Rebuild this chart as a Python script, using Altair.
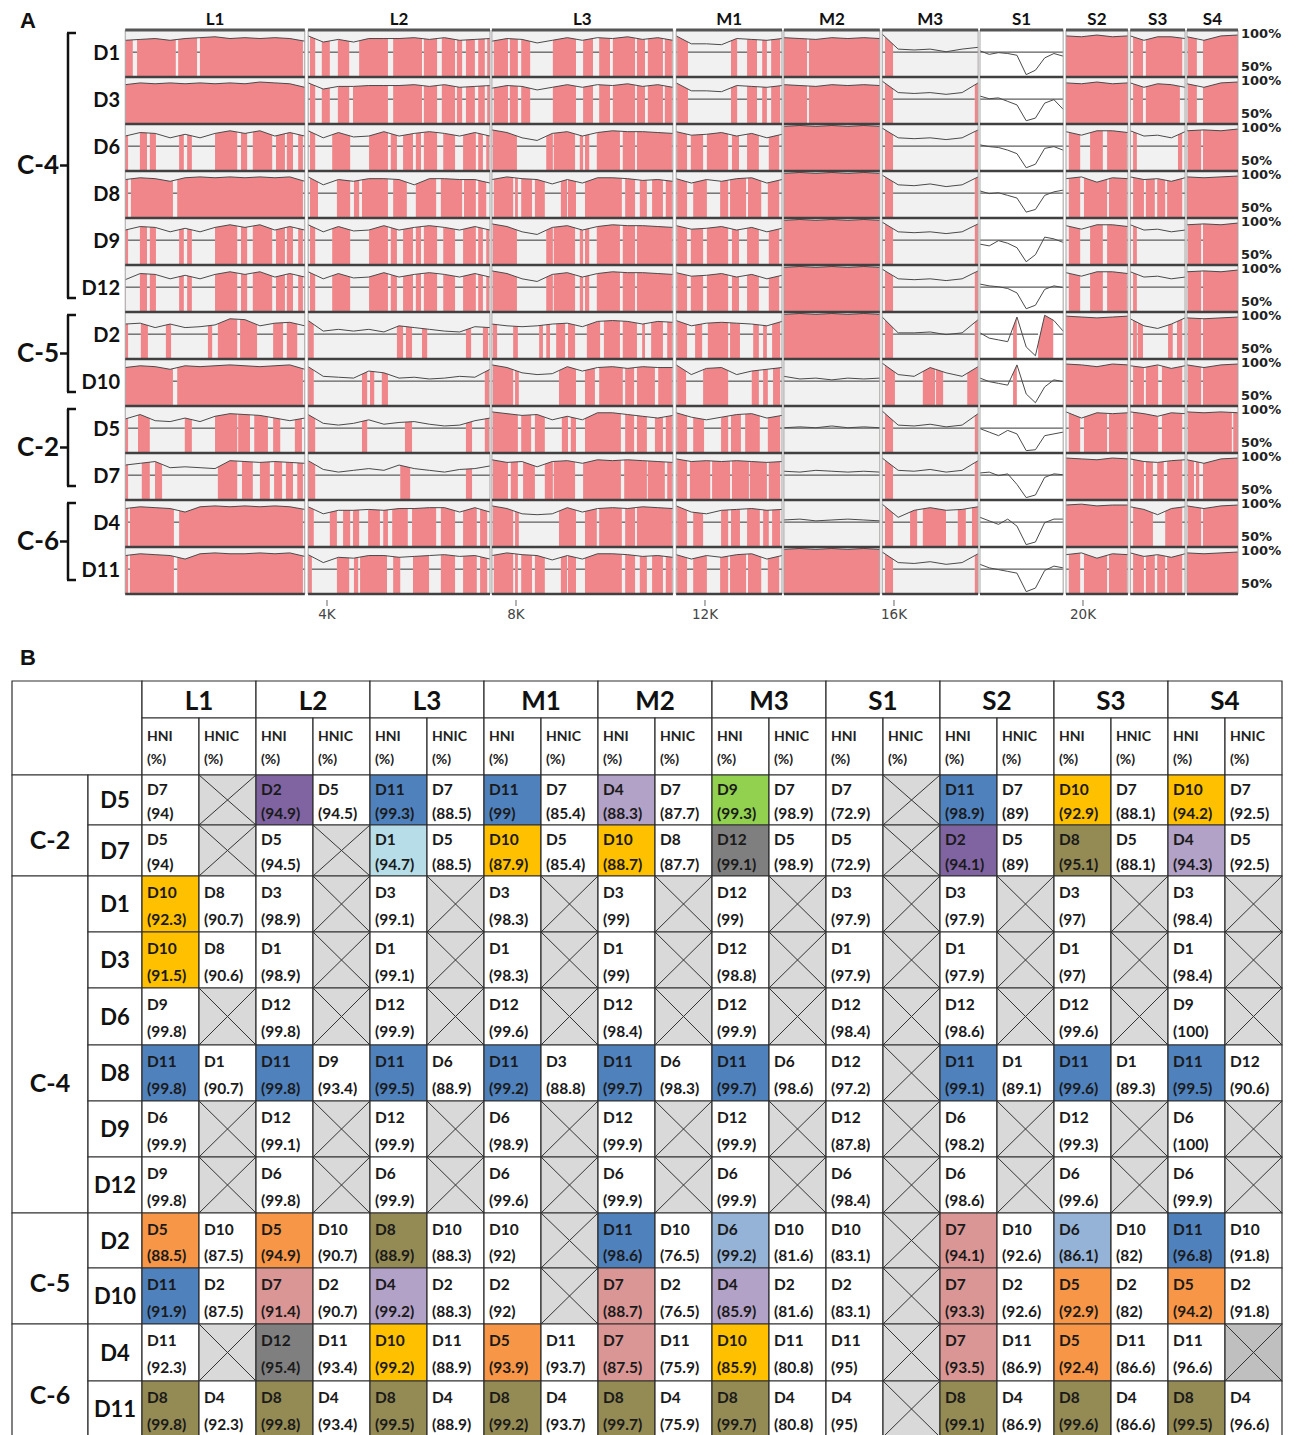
import altair as alt
import pandas as pd

# =====================  PANEL A : similarity plots  =====================
ROWS_A = ["D1", "D3", "D6", "D8", "D9", "D12", "D2", "D10", "D5", "D7", "D4", "D11"]
GROUPS_A = [("C-4", 0, 5), ("C-5", 6, 7), ("C-2", 8, 9), ("C-6", 10, 11)]
SEGMENTS = ["L1", "L2", "L3", "M1", "M2", "M3", "S1", "S2", "S3", "S4"]
SEG_START = [-0.27, 3.60, 7.49, 11.39, 13.67, 15.75, 17.82, 19.64, 21.00, 22.20]   # kb
SEG_END = [3.53, 7.45, 11.32, 13.63, 15.70, 17.78, 19.58, 20.95, 22.16, 23.28]      # kb
THRESHOLD = 76.5
X_TICKS_K = [4, 8, 12, 16, 20]

# similarity (%) sampled evenly along each segment
D1_SIM = [[90, 91, 92, 90, 92, 93, 94, 92, 93, 92, 93, 92, 89], [95, 88, 91, 88, 92, 92, 92, 93, 91, 93, 90, 91, 92],
          [89, 92, 91, 87, 90, 93, 90, 93, 92, 94, 91, 93, 90], [95, 86, 86, 85, 92, 91, 90, 92], [93, 92, 91, 93, 92, 93, 92],
          [97, 80, 79, 80, 77, 80, 82], [78, 74, 76, 75, 73, 51, 56, 70, 75, 72], [95, 94, 96, 94, 95], [95, 90, 94, 94, 92], [94, 90, 95, 96]]
D3_SIM = [[93, 95, 94, 95, 94, 95, 94, 95, 94, 96, 95, 94, 90], [95, 88, 91, 91, 92, 92, 92, 93, 91, 93, 90, 91, 92],
          [89, 92, 91, 87, 90, 93, 90, 93, 92, 94, 91, 93, 90], [95, 86, 86, 85, 92, 91, 90, 92], [93, 92, 91, 93, 92, 93, 92],
          [97, 84, 83, 84, 82, 84, 95], [80, 77, 78, 74, 70, 52, 55, 72, 76, 65], [95, 94, 96, 94, 95], [95, 90, 94, 93, 90], [94, 90, 95, 96]]
D6_SIM = [[88, 92, 91, 86, 90, 86, 91, 94, 91, 94, 88, 92, 88], [94, 86, 92, 87, 88, 93, 88, 91, 93, 91, 88, 92, 88],
          [95, 92, 86, 83, 91, 93, 88, 92, 94, 93, 93, 92, 91], [93, 89, 90, 92, 88, 91, 86, 90], [99, 100, 99, 100, 99, 100, 99],
          [97, 86, 85, 86, 84, 86, 95], [78, 76, 75, 72, 68, 52, 56, 74, 76, 72], [93, 89, 94, 94, 92], [94, 88, 89, 86, 93], [94, 95, 94, 96]]
D8_SIM = [[92, 94, 93, 90, 94, 95, 94, 95, 94, 95, 94, 95, 90], [95, 86, 92, 90, 93, 93, 92, 86, 93, 93, 92, 92, 88],
          [92, 95, 93, 92, 87, 92, 88, 94, 94, 93, 91, 92, 90], [93, 88, 92, 90, 93, 94, 88, 92], [99, 100, 99, 100, 99, 100, 99],
          [97, 86, 85, 87, 84, 86, 95], [79, 76, 77, 74, 71, 55, 58, 74, 78, 80], [93, 95, 89, 94, 93], [95, 92, 93, 90, 94], [95, 94, 95, 96]]
D9_SIM = [[88, 92, 91, 86, 90, 86, 91, 94, 91, 94, 88, 92, 88], [94, 86, 92, 87, 88, 93, 88, 91, 93, 91, 88, 92, 88],
          [95, 92, 86, 83, 91, 93, 88, 92, 94, 93, 93, 92, 91], [93, 89, 90, 92, 88, 91, 86, 90], [99, 100, 99, 100, 99, 100, 99],
          [97, 86, 85, 86, 84, 86, 95], [72, 70, 76, 73, 68, 52, 60, 80, 78, 74], [93, 89, 94, 94, 92], [94, 88, 89, 86, 88], [94, 95, 94, 96]]
D12_SIM = [[85, 92, 91, 86, 90, 86, 91, 94, 91, 94, 88, 92, 88], [94, 86, 92, 87, 88, 93, 88, 91, 93, 91, 88, 92, 88],
           [95, 92, 86, 83, 91, 93, 88, 92, 94, 93, 93, 92, 91], [93, 89, 90, 92, 88, 91, 86, 90], [99, 100, 99, 100, 99, 100, 99],
           [97, 86, 85, 86, 84, 86, 95], [80, 78, 77, 75, 70, 52, 56, 74, 78, 76], [93, 89, 94, 94, 92], [94, 88, 89, 86, 88], [94, 95, 94, 96]]
D2_SIM = [[88, 89, 84, 88, 84, 85, 87, 94, 93, 86, 89, 90, 86], [92, 80, 82, 80, 82, 79, 86, 84, 82, 80, 79, 85, 84],
          [88, 86, 85, 86, 88, 89, 85, 91, 92, 91, 88, 91, 90], [92, 86, 89, 90, 89, 88, 86, 91], [99, 100, 99, 100, 99, 100, 99],
          [96, 78, 78, 79, 76, 78, 93], [78, 72, 70, 68, 96, 62, 52, 98, 92, 80], [97, 96, 95, 96, 97], [94, 86, 83, 88, 95], [95, 94, 95, 96]]
D10_SIM = [[92, 94, 93, 90, 94, 93, 94, 95, 94, 93, 94, 95, 90], [93, 82, 81, 80, 88, 86, 80, 81, 79, 80, 82, 81, 90],
           [95, 92, 86, 84, 85, 93, 88, 92, 93, 91, 93, 92, 92], [95, 84, 91, 92, 84, 88, 90, 92], [82, 79, 80, 78, 80, 79, 80],
           [97, 84, 82, 92, 86, 82, 93], [80, 76, 74, 72, 95, 62, 52, 70, 78, 76], [96, 95, 93, 96, 95], [94, 92, 95, 91, 94], [95, 92, 95, 96]]
D5_SIM = [[87, 92, 85, 84, 88, 84, 90, 93, 92, 91, 88, 85, 88], [92, 82, 80, 82, 86, 81, 83, 84, 81, 79, 80, 85, 88],
          [95, 93, 91, 92, 86, 90, 86, 94, 94, 92, 90, 88, 91], [94, 89, 86, 89, 92, 93, 88, 91], [77, 78, 77, 79, 77, 78, 77],
          [96, 80, 79, 81, 78, 80, 93], [76, 72, 68, 74, 70, 51, 52, 68, 70, 72], [95, 88, 94, 93, 94], [95, 93, 90, 94, 93], [95, 94, 95, 94]]
D7_SIM = [[88, 90, 92, 85, 86, 85, 84, 93, 92, 91, 92, 91, 90], [93, 83, 80, 82, 84, 82, 88, 84, 82, 80, 83, 84, 87],
          [94, 91, 92, 86, 92, 93, 90, 94, 93, 94, 93, 92, 91], [95, 92, 93, 92, 93, 92, 91, 92], [81, 80, 82, 81, 80, 81, 80],
          [96, 82, 81, 83, 80, 82, 93], [79, 80, 76, 78, 66, 51, 54, 74, 78, 77], [96, 95, 94, 96, 95], [95, 92, 91, 93, 94], [94, 90, 95, 96]]
D4_SIM = [[92, 94, 93, 92, 88, 94, 95, 94, 95, 94, 95, 94, 91], [94, 86, 90, 90, 91, 90, 92, 92, 93, 93, 88, 93, 88],
          [95, 92, 86, 85, 86, 93, 88, 92, 93, 92, 94, 93, 92], [95, 88, 86, 90, 91, 92, 90, 91], [79, 80, 78, 79, 80, 79, 78],
          [97, 82, 90, 93, 90, 91, 94], [82, 78, 74, 80, 72, 51, 54, 76, 80, 80], [96, 97, 95, 96, 96], [94, 91, 85, 92, 94], [95, 92, 95, 96]]
D11_SIM = [[92, 94, 93, 92, 88, 94, 95, 94, 94, 95, 94, 95, 91], [93, 84, 90, 89, 92, 92, 90, 91, 92, 93, 91, 92, 88],
           [92, 95, 93, 92, 87, 92, 88, 94, 94, 93, 91, 92, 90], [93, 88, 92, 90, 93, 94, 88, 92], [99, 100, 99, 100, 99, 100, 99],
           [96, 84, 83, 85, 82, 84, 94], [82, 78, 76, 74, 72, 51, 55, 75, 80, 78], [93, 95, 89, 94, 93], [95, 91, 93, 90, 94], [95, 94, 95, 96]]

# genome intervals (kb) where the row's sequence is the closest relative (pink)
D1_PINK = [[(-0.27, -0.11), (-0.02, 0.80), (0.85, 1.25), (1.31, 3.49)],
           [(3.64, 3.75), (3.89, 4.06), (4.23, 4.47), (4.68, 5.29), (5.40, 6.01), (6.05, 6.33), (6.43, 6.71), (6.75, 6.86), (6.94, 7.13), (7.20, 7.34), (7.39, 7.45)],
           [(7.53, 7.83), (7.87, 8.04), (8.11, 8.30), (8.78, 9.27), (9.42, 9.63), (9.76, 9.99), (10.05, 10.52), (10.56, 10.73), (10.79, 11.11), (11.15, 11.30)],
           [(11.41, 11.64), (12.55, 12.68), (12.89, 13.10), (13.21, 13.31), (13.40, 13.59)],
           [(13.67, 14.16), (14.20, 15.70)], [(15.81, 15.98)], [], [(19.64, 20.95)],
           [(21.06, 21.27), (21.33, 22.10)], [(22.22, 22.41), (22.54, 23.28)]]
D3_PINK = [[(-0.27, 3.53)],
           [(3.64, 3.75), (3.89, 4.06), (4.23, 4.47), (4.55, 5.29), (5.40, 6.01), (6.05, 6.33), (6.43, 6.71), (6.75, 6.86), (6.94, 7.13), (7.20, 7.34), (7.39, 7.45)],
           [(7.53, 7.83), (7.87, 8.04), (8.11, 8.30), (8.78, 9.27), (9.42, 9.63), (9.76, 9.99), (10.05, 10.52), (10.56, 10.73), (10.79, 11.11), (11.15, 11.30)],
           [(11.41, 11.64), (12.55, 12.68), (12.89, 13.10), (13.21, 13.31), (13.40, 13.59)],
           [(13.67, 14.16), (14.20, 15.70)], [(15.81, 15.98), (17.71, 17.78)], [], [(19.64, 20.95)],
           [(21.06, 21.27), (21.33, 22.05)], [(22.22, 22.41), (22.54, 23.28)]]
D6_PINK = [[(-0.27, -0.21), (0.04, 0.19), (0.25, 0.38), (0.87, 0.97), (1.04, 1.14), (1.63, 2.10), (2.18, 2.31), (2.43, 2.84), (2.92, 3.11), (3.15, 3.28), (3.39, 3.49)],
           [(3.64, 3.75), (4.11, 4.49), (4.89, 5.29), (5.35, 5.48), (5.61, 5.82), (5.88, 5.99), (6.05, 6.33), (6.46, 6.71), (6.88, 7.15), (7.20, 7.30), (7.37, 7.43)],
           [(7.51, 8.02), (8.64, 8.78), (8.80, 9.25), (9.35, 9.42), (9.46, 9.55), (9.71, 10.20), (10.26, 10.52), (10.56, 11.30)],
           [(11.41, 11.62), (11.70, 11.96), (12.04, 12.49), (12.57, 12.72), (12.89, 13.14), (13.35, 13.57)],
           [(13.67, 15.70)], [(15.81, 15.98), (17.71, 17.78)], [],
           [(19.70, 19.94), (20.15, 20.42), (20.51, 20.93)], [(21.06, 21.14), (22.01, 22.10)], [(22.22, 22.50), (22.54, 23.28)]]
D8_PINK = [[(-0.27, -0.21), (-0.15, 0.74), (0.83, 3.49)],
           [(3.64, 3.81), (4.21, 4.49), (4.57, 4.68), (4.74, 5.29), (5.40, 5.69), (5.88, 6.31), (6.41, 6.86), (6.90, 7.15), (7.20, 7.37)],
           [(7.53, 7.94), (7.98, 8.04), (8.11, 8.34), (8.40, 8.61), (8.95, 9.08), (9.10, 9.27), (9.46, 10.24), (10.31, 10.52), (10.62, 10.77), (10.88, 11.11), (11.17, 11.30)],
           [(11.41, 11.62), (11.75, 12.04), (12.32, 12.49), (12.53, 12.87), (12.91, 13.19), (13.33, 13.57)],
           [(13.67, 15.70)], [(15.81, 15.98), (17.71, 17.78)], [],
           [(19.70, 19.94), (20.02, 20.51), (20.55, 20.93)], [(21.06, 21.29), (21.33, 21.52), (21.57, 21.74), (21.78, 22.10)], [(22.20, 23.28)]]
D9_PINK = [[(-0.27, -0.21), (0.04, 0.19), (0.25, 0.38), (0.87, 0.97), (1.04, 1.14), (1.63, 2.10), (2.18, 2.31), (2.43, 2.84), (2.92, 3.11), (3.15, 3.28), (3.39, 3.49)],
           [(3.64, 3.75), (4.11, 4.49), (4.89, 5.29), (5.35, 5.48), (5.61, 5.82), (5.88, 5.99), (6.05, 6.33), (6.46, 6.71), (6.88, 7.15), (7.20, 7.30), (7.37, 7.43)],
           [(7.51, 8.02), (8.64, 8.78), (8.80, 9.25), (9.35, 9.42), (9.46, 9.55), (9.71, 10.20), (10.26, 10.52), (10.56, 11.30)],
           [(11.41, 11.62), (11.70, 11.96), (12.04, 12.49), (12.57, 12.72), (12.89, 13.14), (13.35, 13.57)],
           [(13.67, 15.70)], [(15.81, 15.98), (17.71, 17.78)], [],
           [(19.70, 19.94), (20.15, 20.42), (20.51, 20.93)], [(21.06, 21.14)], [(22.22, 22.50), (22.54, 23.28)]]
D12_PINK = [[(0.04, 0.19), (0.25, 0.38), (0.87, 0.97), (1.04, 1.14), (1.63, 2.10), (2.18, 2.31), (2.43, 2.84), (2.92, 3.11), (3.15, 3.28), (3.39, 3.49)],
            [(3.64, 3.75), (4.11, 4.49), (4.89, 5.29), (5.35, 5.48), (5.61, 5.82), (5.88, 5.99), (6.05, 6.33), (6.46, 6.71), (6.88, 7.15), (7.20, 7.30), (7.37, 7.43)],
            [(7.51, 8.02), (8.64, 8.78), (8.80, 9.25), (9.35, 9.42), (9.46, 9.55), (9.71, 10.20), (10.26, 10.52), (10.56, 11.30)],
            [(11.41, 11.62), (11.70, 11.96), (12.04, 12.49), (12.57, 12.72), (12.89, 13.14), (13.35, 13.57)],
            [(13.67, 15.70)], [(15.81, 15.98), (17.71, 17.78)], [],
            [(19.70, 19.94), (20.15, 20.42), (20.51, 20.93)], [(21.06, 21.14)], [(22.22, 22.50), (22.54, 23.28)]]
D2_PINK = [[(-0.27, -0.21), (0.06, 0.21), (0.59, 0.70), (1.48, 1.57), (1.69, 2.10), (2.16, 2.52), (2.86, 3.07), (3.15, 3.37)],
           [(3.60, 3.72), (5.48, 5.61), (5.67, 5.80), (6.01, 6.12), (6.94, 7.05), (7.30, 7.41)],
           [(7.51, 7.60), (7.94, 8.04), (8.49, 8.57), (8.64, 8.72), (8.85, 9.04), (9.10, 9.25), (9.50, 9.78), (9.86, 10.20), (10.26, 10.56), (10.67, 10.73), (10.86, 11.11), (11.20, 11.30)],
           [(11.41, 11.62), (11.79, 11.94), (12.06, 12.49), (12.53, 12.74), (13.02, 13.14), (13.23, 13.31), (13.42, 13.59)],
           [(13.67, 15.70)], [(15.81, 15.98), (17.71, 17.78)], [(18.52, 18.60), (19.05, 19.37)], [(19.64, 20.95)],
           [(21.06, 21.14), (21.16, 21.27), (21.80, 21.90), (21.99, 22.10)], [(22.22, 22.50), (22.54, 23.28)]]
D10_PINK = [[(-0.27, 0.74), (0.83, 3.49)],
            [(3.60, 3.72), (4.74, 4.85), (4.91, 5.00), (5.16, 5.29), (7.34, 7.43)],
            [(7.51, 7.94), (7.98, 8.06), (8.91, 9.27), (9.46, 9.67), (9.76, 10.26), (10.31, 10.50), (10.56, 10.94), (11.01, 11.30)],
            [(11.41, 11.60), (11.96, 12.49), (12.99, 13.14), (13.23, 13.33), (13.44, 13.59)],
            [], [(15.81, 16.02), (16.61, 16.87), (16.89, 17.04), (17.55, 17.78)], [(18.52, 18.60)], [(19.64, 20.95)],
            [(21.06, 21.29), (21.33, 21.59), (21.67, 22.10)], [(22.22, 22.50), (22.54, 23.28)]]
D5_PINK = [[(-0.27, -0.21), (0.00, 0.25), (0.99, 1.14), (1.63, 2.10), (2.12, 2.37), (2.46, 2.75), (2.86, 3.01), (3.32, 3.47)],
           [(3.60, 3.75), (4.74, 4.85), (5.65, 5.80), (6.94, 7.07), (7.34, 7.43)],
           [(7.51, 8.04), (8.11, 8.32), (8.40, 8.61), (8.97, 9.10), (9.16, 9.27), (9.46, 10.22), (10.31, 10.50), (10.56, 10.77), (10.94, 11.11), (11.17, 11.30)],
           [(11.41, 11.62), (11.75, 11.98), (12.34, 12.49), (12.55, 12.76), (12.85, 13.16), (13.33, 13.59)],
           [], [(15.81, 15.98), (17.71, 17.78)], [], [(19.70, 19.94), (20.02, 20.51), (20.55, 20.93)],
           [(21.06, 21.59), (21.67, 22.10)], [(22.22, 23.15), (23.18, 23.28)]]
D7_PINK = [[(-0.27, -0.21), (0.08, 0.25), (0.36, 0.51), (1.69, 2.10), (2.20, 2.43), (2.58, 2.79), (2.88, 3.05), (3.13, 3.28), (3.37, 3.49)],
           [(3.60, 3.75), (5.55, 5.76), (6.94, 7.07)],
           [(7.51, 7.83), (7.89, 8.04), (8.15, 8.40), (8.61, 8.78), (8.80, 9.25), (9.42, 10.22), (10.29, 10.77), (10.79, 11.15), (11.20, 11.30)],
           [(11.41, 11.62), (11.68, 12.11), (12.15, 12.53), (12.57, 12.93), (12.95, 13.31), (13.35, 13.59)],
           [], [(15.81, 15.98), (17.71, 17.78)], [], [(19.64, 20.95)],
           [(21.06, 21.29), (21.33, 21.48), (21.57, 21.71), (21.78, 22.10)], [(22.22, 22.35), (22.39, 22.46), (22.54, 23.28)]]
D4_PINK = [[(-0.27, -0.21), (-0.17, 0.76), (0.87, 3.49)],
           [(3.60, 3.72), (4.06, 4.21), (4.34, 4.49), (4.55, 4.68), (4.87, 5.12), (5.19, 5.29), (5.38, 5.71), (5.80, 6.31), (6.41, 6.71), (6.88, 7.17), (7.24, 7.39)],
           [(7.51, 7.94), (7.98, 8.06), (8.91, 9.27), (9.46, 9.71), (9.76, 10.24), (10.31, 10.52), (10.56, 11.30)],
           [(11.41, 11.62), (11.75, 11.96), (12.34, 12.49), (12.55, 12.74), (12.89, 13.16), (13.23, 13.35), (13.42, 13.59)],
           [], [(15.81, 15.98), (16.34, 16.49), (16.61, 17.10), (17.35, 17.52), (17.65, 17.78)], [], [(19.64, 20.95)],
           [(21.06, 21.48), (21.74, 22.10)], [(22.22, 22.50), (22.54, 23.28)]]
D11_PINK = [[(-0.27, -0.21), (-0.17, 0.76), (0.83, 3.49)],
            [(3.60, 3.68), (4.21, 4.47), (4.57, 4.66), (4.70, 5.27), (5.40, 5.55), (5.82, 6.16), (6.41, 6.71), (6.88, 7.17), (7.24, 7.39)],
            [(7.53, 7.94), (7.98, 8.04), (8.11, 8.34), (8.40, 8.61), (8.95, 9.08), (9.10, 9.27), (9.46, 10.24), (10.31, 10.52), (10.62, 10.77), (10.88, 11.11), (11.17, 11.30)],
            [(11.41, 11.62), (11.75, 12.04), (12.32, 12.49), (12.53, 12.87), (12.91, 13.19), (13.33, 13.57)],
            [(13.67, 15.70)], [(15.81, 15.98), (17.71, 17.78)], [],
            [(19.70, 19.94), (20.02, 20.51), (20.55, 20.93)], [(21.06, 21.29), (21.33, 21.52), (21.57, 21.74), (21.78, 22.10)], [(22.20, 23.28)]]

SIM = dict(zip(ROWS_A, [D1_SIM, D3_SIM, D6_SIM, D8_SIM, D9_SIM, D12_SIM, D2_SIM, D10_SIM, D5_SIM, D7_SIM, D4_SIM, D11_SIM]))
PINK = dict(zip(ROWS_A, [D1_PINK, D3_PINK, D6_PINK, D8_PINK, D9_PINK, D12_PINK, D2_PINK, D10_PINK, D5_PINK, D7_PINK, D4_PINK, D11_PINK]))

# =====================  PANEL B : table  =====================
ROWS_B = ["D5", "D7", "D1", "D3", "D6", "D8", "D9", "D12", "D2", "D10", "D4", "D11"]
GROUPS_B = [("C-2", 0, 1), ("C-4", 2, 7), ("C-5", 8, 9), ("C-6", 10, 11)]
HNI = {
    "D5": [("D7", 94), ("D2", 94.9), ("D11", 99.3), ("D11", 99), ("D4", 88.3), ("D9", 99.3), ("D7", 72.9), ("D11", 98.9), ("D10", 92.9), ("D10", 94.2)],
    "D7": [("D5", 94), ("D5", 94.5), ("D1", 94.7), ("D10", 87.9), ("D10", 88.7), ("D12", 99.1), ("D5", 72.9), ("D2", 94.1), ("D8", 95.1), ("D4", 94.3)],
    "D1": [("D10", 92.3), ("D3", 98.9), ("D3", 99.1), ("D3", 98.3), ("D3", 99), ("D12", 99), ("D3", 97.9), ("D3", 97.9), ("D3", 97), ("D3", 98.4)],
    "D3": [("D10", 91.5), ("D1", 98.9), ("D1", 99.1), ("D1", 98.3), ("D1", 99), ("D12", 98.8), ("D1", 97.9), ("D1", 97.9), ("D1", 97), ("D1", 98.4)],
    "D6": [("D9", 99.8), ("D12", 99.8), ("D12", 99.9), ("D12", 99.6), ("D12", 98.4), ("D12", 99.9), ("D12", 98.4), ("D12", 98.6), ("D12", 99.6), ("D9", 100)],
    "D8": [("D11", 99.8), ("D11", 99.8), ("D11", 99.5), ("D11", 99.2), ("D11", 99.7), ("D11", 99.7), ("D12", 97.2), ("D11", 99.1), ("D11", 99.6), ("D11", 99.5)],
    "D9": [("D6", 99.9), ("D12", 99.1), ("D12", 99.9), ("D6", 98.9), ("D12", 99.9), ("D12", 99.9), ("D12", 87.8), ("D6", 98.2), ("D12", 99.3), ("D6", 100)],
    "D12": [("D9", 99.8), ("D6", 99.8), ("D6", 99.9), ("D6", 99.6), ("D6", 99.9), ("D6", 99.9), ("D6", 98.4), ("D6", 98.6), ("D6", 99.6), ("D6", 99.9)],
    "D2": [("D5", 88.5), ("D5", 94.9), ("D8", 88.9), ("D10", 92), ("D11", 98.6), ("D6", 99.2), ("D10", 83.1), ("D7", 94.1), ("D6", 86.1), ("D11", 96.8)],
    "D10": [("D11", 91.9), ("D7", 91.4), ("D4", 99.2), ("D2", 92), ("D7", 88.7), ("D4", 85.9), ("D2", 83.1), ("D7", 93.3), ("D5", 92.9), ("D5", 94.2)],
    "D4": [("D11", 92.3), ("D12", 95.4), ("D10", 99.2), ("D5", 93.9), ("D7", 87.5), ("D10", 85.9), ("D11", 95), ("D7", 93.5), ("D5", 92.4), ("D11", 96.6)],
    "D11": [("D8", 99.8), ("D8", 99.8), ("D8", 99.5), ("D8", 99.2), ("D8", 99.7), ("D8", 99.7), ("D4", 95), ("D8", 99.1), ("D8", 99.6), ("D8", 99.5)],
}
HNIC = {
    "D5": [None, ("D5", 94.5), ("D7", 88.5), ("D7", 85.4), ("D7", 87.7), ("D7", 98.9), None, ("D7", 89), ("D7", 88.1), ("D7", 92.5)],
    "D7": [None, None, ("D5", 88.5), ("D5", 85.4), ("D8", 87.7), ("D5", 98.9), None, ("D5", 89), ("D5", 88.1), ("D5", 92.5)],
    "D1": [("D8", 90.7), None, None, None, None, None, None, None, None, None],
    "D3": [("D8", 90.6), None, None, None, None, None, None, None, None, None],
    "D6": [None] * 10,
    "D8": [("D1", 90.7), ("D9", 93.4), ("D6", 88.9), ("D3", 88.8), ("D6", 98.3), ("D6", 98.6), None, ("D1", 89.1), ("D1", 89.3), ("D12", 90.6)],
    "D9": [None] * 10,
    "D12": [None] * 10,
    "D2": [("D10", 87.5), ("D10", 90.7), ("D10", 88.3), None, ("D10", 76.5), ("D10", 81.6), None, ("D10", 92.6), ("D10", 82), ("D10", 91.8)],
    "D10": [("D2", 87.5), ("D2", 90.7), ("D2", 88.3), None, ("D2", 76.5), ("D2", 81.6), None, ("D2", 92.6), ("D2", 82), ("D2", 91.8)],
    "D4": [None, ("D11", 93.4), ("D11", 88.9), ("D11", 93.7), ("D11", 75.9), ("D11", 80.8), None, ("D11", 86.9), ("D11", 86.6), None],
    "D11": [("D4", 92.3), ("D4", 93.4), ("D4", 88.9), ("D4", 93.7), ("D4", 75.9), ("D4", 80.8), None, ("D4", 86.9), ("D4", 86.6), ("D4", 96.6)],
}
# 1 = closest relative lies outside the cluster (cell coloured)
HIGHLIGHT = {
    "D5": [0, 1, 1, 1, 1, 1, 0, 1, 1, 1], "D7": [0, 0, 1, 1, 1, 1, 0, 1, 1, 1],
    "D1": [1, 0, 0, 0, 0, 0, 0, 0, 0, 0], "D3": [1, 0, 0, 0, 0, 0, 0, 0, 0, 0],
    "D6": [0] * 10, "D8": [1, 1, 1, 1, 1, 1, 0, 1, 1, 1], "D9": [0] * 10, "D12": [0] * 10,
    "D2": [1, 1, 1, 0, 1, 1, 0, 1, 1, 1], "D10": [1, 1, 1, 0, 1, 1, 0, 1, 1, 1],
    "D4": [0, 1, 1, 1, 1, 1, 0, 1, 1, 0], "D11": [1, 1, 1, 1, 1, 1, 0, 1, 1, 1],
}
DARK_X = [("D4", 9)]
SEQ_COLORS = {"D11": "#4f81bd", "D2": "#8064a2", "D1": "#b7dee8", "D10": "#ffc000", "D4": "#b3a2c7",
              "D9": "#92d050", "D12": "#7f7f7f", "D8": "#948a54", "D5": "#f79646", "D7": "#d99694", "D6": "#95b3d7"}

# =====================  styling / layout  =====================
PINK_C = "#f0868a"
BG_C = "#f1f1f1"
FONT = "Lato"
W = 1281
HA = 625
U = 50.0 / 44.0            # similarity units per pixel
ROW_U = 47 * U
PAD_U = 1.5 * U
X_DOM_A = [-2.7513, 24.3598]
Y_DOM_A = [-22 * U, 603 * U]


def ysim(i, v):
    return i * ROW_U + PAD_U + (100 - v)


cells, lines, gaps = [], [], []
for i, r in enumerate(ROWS_A):
    for j, s in enumerate(SEGMENTS):
        bg = "#ffffff" if s == "S1" else BG_C
        key = f"{r}-{s}"
        top, bot = i * ROW_U, (i + 1) * ROW_U
        cells.append(dict(key=key, x=SEG_START[j], x2=SEG_END[j], top=top, bot=bot, bg=bg, first=(i == 0)))
        vals = SIM[r][j]
        n = len(vals)
        for k, v in enumerate(vals):
            lines.append(dict(key=key, x=SEG_START[j] + (SEG_END[j] - SEG_START[j]) * k / (n - 1),
                              y=ysim(i, v), bot=bot - 0.8))
        cur = SEG_START[j]
        for (a, b) in sorted(PINK[r][j]):
            if a > cur + 1e-6:
                gaps.append(dict(x=cur, x2=a, top=top, bot=bot, mid=ysim(i, THRESHOLD), bg=bg))
            cur = max(cur, b)
        if cur < SEG_END[j] - 1e-6:
            gaps.append(dict(x=cur, x2=SEG_END[j], top=top, bot=bot, mid=ysim(i, THRESHOLD), bg=bg))

df_cells = pd.DataFrame(cells)
df_lines = pd.DataFrame(lines)
df_gaps = pd.DataFrame(gaps)

xsA = alt.Scale(domain=X_DOM_A, nice=False, zero=False)
ysA = alt.Scale(domain=Y_DOM_A, nice=False, zero=False, reverse=True)


def XA(f):
    return alt.X(f, type="quantitative", scale=xsA, axis=None)


def YA(f):
    return alt.Y(f, type="quantitative", scale=ysA, axis=None)


bg_layer = alt.Chart(df_cells).mark_rect(strokeWidth=0).encode(
    x=XA("x"), x2="x2", y=YA("top"), y2="bot", fill=alt.Fill("bg:N", scale=None))
pink_layer = alt.Chart(df_lines).mark_area(color=PINK_C, interpolate="linear").encode(
    x=XA("x"), y=YA("y"), y2="bot", detail="key:N")
cover_layer = alt.Chart(df_gaps).mark_rect(strokeWidth=0).encode(
    x=XA("x"), x2="x2", y=YA("top"), y2="bot", fill=alt.Fill("bg:N", scale=None))
mid_layer = alt.Chart(df_gaps).mark_rule(color="#5e5e5e", strokeWidth=1.3).encode(
    x=XA("x"), x2="x2", y=YA("mid"))
line_layer = alt.Chart(df_lines).mark_line(color="#4a4a4a", strokeWidth=1).encode(
    x=XA("x"), y=YA("y"), detail="key:N")
frame_layer = alt.Chart(df_cells).mark_rect(fillOpacity=0, stroke="#a5a5a5", strokeWidth=1).encode(
    x=XA("x"), x2="x2", y=YA("top"), y2="bot")
bottom_layer = alt.Chart(df_cells).mark_rule(color="#404040", strokeWidth=2.5).encode(
    x=XA("x"), x2="x2", y=YA("bot"))
top_layer = alt.Chart(df_cells[df_cells["first"]]).mark_rule(color="#555555", strokeWidth=3).encode(
    x=XA("x"), x2="x2", y=YA("top"))

# x axis (ticks + labels) drawn through the same kb scale
df_ticks = pd.DataFrame(dict(x=X_TICKS_K, label=[f"{t}K" for t in X_TICKS_K],
                             t0=[(600 - 30) * U] * 5, t1=[(606 - 30) * U] * 5, ty=[(615 - 30) * U] * 5))
tick_layer = alt.Chart(df_ticks).mark_rule(color="#666", strokeWidth=1).encode(x=XA("x"), y=YA("t0"), y2="t1")
ticklab_layer = alt.Chart(df_ticks).mark_text(font="DejaVu Sans", fontSize=13.5, color="#444", baseline="middle").encode(
    x=XA("x"), y=YA("ty"), text="label:N")

df_seglab = pd.DataFrame(dict(label=SEGMENTS, x=[(a + b) / 2 for a, b in zip(SEG_START, SEG_END)], y=[-10.5 * U] * 10))
seglab_layer = alt.Chart(df_seglab).mark_text(font=FONT, fontSize=17, fontWeight="bold", color="#111",
                                              baseline="middle").encode(
    x=XA("x"), y=YA("y"), text="label:N")

df_rowlab = pd.DataFrame(dict(label=ROWS_A, y=[i * ROW_U + ROW_U / 2 + 1 for i in range(len(ROWS_A))]))
rowlab_layer = alt.Chart(df_rowlab).mark_text(font=FONT, fontSize=20, fontWeight="bold", align="right",
                                              baseline="middle", color="#111").encode(
    x=alt.value(112), y=YA("y"), text="label:N")

br = []
for g, i0, i1 in GROUPS_A:
    t = i0 * ROW_U + 3 * U
    b = (i1 + 1) * ROW_U - 14 * U
    br.append(dict(label=g, t=t, b=b, m=(t + b) / 2))
df_br = pd.DataFrame(br)
br_v = alt.Chart(df_br).mark_rule(color="#111", strokeWidth=2.5).encode(x=alt.value(60), y=YA("t"), y2="b")
br_t = alt.Chart(df_br).mark_rule(color="#111", strokeWidth=2.5).encode(x=alt.value(59), x2=alt.value(68), y=YA("t"))
br_b = alt.Chart(df_br).mark_rule(color="#111", strokeWidth=2.5).encode(x=alt.value(59), x2=alt.value(68), y=YA("b"))
br_m = alt.Chart(df_br).mark_rule(color="#111", strokeWidth=2.5).encode(x=alt.value(52), x2=alt.value(60), y=YA("m"))
grp_layer = alt.Chart(df_br).mark_text(font=FONT, fontSize=26, fontWeight="bold", align="right",
                                       baseline="middle", color="#111").encode(
    x=alt.value(51), y=YA("m"), text="label:N")

df_pct = pd.DataFrame(dict(y100=[ysim(i, 100) for i in range(12)], y50=[ysim(i, 50) for i in range(12)]))
pct100 = alt.Chart(df_pct).mark_text(font="DejaVu Sans", fontSize=13, fontWeight="bold", align="left",
                                     baseline="middle", dy=2, color="#222").encode(
    x=alt.value(1233), y=YA("y100"), text=alt.value("100%"))
pct50 = alt.Chart(df_pct).mark_text(font="DejaVu Sans", fontSize=13, fontWeight="bold", align="left",
                                    baseline="middle", dy=-9, color="#222").encode(
    x=alt.value(1233), y=YA("y50"), text=alt.value("50%"))

df_A = pd.DataFrame(dict(label=["A"], y=[-9 * U]))
labA = alt.Chart(df_A).mark_text(font="Liberation Sans", fontSize=22, fontWeight="bold", color="#111",
                                 baseline="middle").encode(
    x=alt.value(20), y=YA("y"), text="label:N")

chartA = alt.layer(bg_layer, pink_layer, cover_layer, mid_layer, line_layer, frame_layer, bottom_layer, top_layer,
                   tick_layer, ticklab_layer, seglab_layer, rowlab_layer, br_v, br_t, br_b, br_m, grp_layer,
                   pct100, pct50, labA).properties(width=W, height=HA)

# ---------------- table geometry ----------------
HB = 807
X_DOM_B = [(8 - 142) / 57.0, (1289 - 142) / 57.0]
Y_DOM_B = [-48, 759]
X_LEFT = (12 - 142) / 57.0
X_ROWLAB = (88 - 142) / 57.0
HEAD1, HEAD2 = 37, 57
ROW_H = [50, 51, 56, 56, 57, 56, 56, 56, 55, 56, 57, 56]
GROUP_LABEL_SHIFT = {"C-2": 15, "C-4": 39, "C-5": 15, "C-6": 15}

row_top = []
acc = HEAD1 + HEAD2
for h in ROW_H:
    row_top.append(acc)
    acc += h

rects, diags, names, vals = [], [], [], []
rects.append(dict(x=X_LEFT, x2=0, y=0, y2=HEAD1 + HEAD2, fill="#ffffff"))
for j in range(10):
    rects.append(dict(x=2 * j, x2=2 * j + 2, y=0, y2=HEAD1, fill="#ffffff"))
for k in range(20):
    rects.append(dict(x=k, x2=k + 1, y=HEAD1, y2=HEAD1 + HEAD2, fill="#ffffff"))
for g, i0, i1 in GROUPS_B:
    rects.append(dict(x=X_LEFT, x2=X_ROWLAB, y=row_top[i0], y2=row_top[i1] + ROW_H[i1], fill="#ffffff"))
for i, r in enumerate(ROWS_B):
    t, h = row_top[i], ROW_H[i]
    rects.append(dict(x=X_ROWLAB, x2=0, y=t, y2=t + h, fill="#ffffff"))
    for j in range(10):
        nm, v = HNI[r][j]
        fill = SEQ_COLORS[nm] if HIGHLIGHT[r][j] else "#ffffff"
        rects.append(dict(x=2 * j, x2=2 * j + 1, y=t, y2=t + h, fill=fill))
        names.append(dict(x=2 * j, y=t + 0.3 * h, text=nm))
        vals.append(dict(x=2 * j, y=t + 0.78 * h, text=f"({v:g})"))
        c = HNIC[r][j]
        if c is None:
            xfill = "#bfbfbf" if (r, j) in DARK_X else "#d9d9d9"
            rects.append(dict(x=2 * j + 1, x2=2 * j + 2, y=t, y2=t + h, fill=xfill))
            diags.append(dict(x=2 * j + 1, x2=2 * j + 2, y=t, y2=t + h))
            diags.append(dict(x=2 * j + 1, x2=2 * j + 2, y=t + h, y2=t))
        else:
            rects.append(dict(x=2 * j + 1, x2=2 * j + 2, y=t, y2=t + h, fill="#ffffff"))
            names.append(dict(x=2 * j + 1, y=t + 0.3 * h, text=c[0]))
            vals.append(dict(x=2 * j + 1, y=t + 0.78 * h, text=f"({c[1]:g})"))

df_rects = pd.DataFrame(rects)
df_diags = pd.DataFrame(diags)
df_cell_text = pd.DataFrame(names + vals)
df_head = pd.DataFrame(dict(x=[2 * j + 1 for j in range(10)], y=[HEAD1 / 2 + 2] * 10, text=SEGMENTS))
df_sub1 = pd.DataFrame(dict(x=list(range(20)), y=[HEAD1 + 0.33 * HEAD2] * 20,
                            text=["HNI" if k % 2 == 0 else "HNIC" for k in range(20)]))
df_sub2 = pd.DataFrame(dict(x=list(range(20)), y=[HEAD1 + 0.74 * HEAD2] * 20, text=["(%)"] * 20))
df_rowlabB = pd.DataFrame(dict(x=[(X_ROWLAB) / 2] * 12, y=[row_top[i] + ROW_H[i] / 2 + 1 for i in range(12)], text=ROWS_B))
df_grpB = pd.DataFrame(dict(x=[(X_LEFT + X_ROWLAB) / 2] * 4,
                            y=[(row_top[i0] + row_top[i1] + ROW_H[i1]) / 2 + GROUP_LABEL_SHIFT[g] for g, i0, i1 in GROUPS_B],
                            text=[g for g, _, _ in GROUPS_B]))

xsB = alt.Scale(domain=X_DOM_B, nice=False, zero=False)
ysB = alt.Scale(domain=Y_DOM_B, nice=False, zero=False, reverse=True)


def XB(f):
    return alt.X(f, type="quantitative", scale=xsB, axis=None)


def YB(f):
    return alt.Y(f, type="quantitative", scale=ysB, axis=None)


rect_layer = alt.Chart(df_rects).mark_rect(stroke="#2e2e2e", strokeWidth=1.2).encode(
    x=XB("x"), x2="x2", y=YB("y"), y2="y2", fill=alt.Fill("fill:N", scale=None))
diag_layer = alt.Chart(df_diags).mark_rule(color="#333333", strokeWidth=1).encode(
    x=XB("x"), x2="x2", y=YB("y"), y2="y2")
ctext_layer = alt.Chart(df_cell_text).mark_text(font=FONT, fontSize=15.5, fontWeight="bold", align="left",
                                                baseline="middle", dx=5, color="#1a1a1a").encode(
    x=XB("x"), y=YB("y"), text="text:N")
head_layer = alt.Chart(df_head).mark_text(font=FONT, fontSize=26, fontWeight="bold", baseline="middle",
                                          color="#111").encode(x=XB("x"), y=YB("y"), text="text:N")
sub1_layer = alt.Chart(df_sub1).mark_text(font=FONT, fontSize=14, fontWeight="bold", align="left",
                                          baseline="middle", dx=5, color="#222").encode(
    x=XB("x"), y=YB("y"), text="text:N")
sub2_layer = alt.Chart(df_sub2).mark_text(font=FONT, fontSize=14, fontWeight="bold", align="left",
                                          baseline="middle", dx=5, color="#222").encode(
    x=XB("x"), y=YB("y"), text="text:N")
rowlabB_layer = alt.Chart(df_rowlabB).mark_text(font=FONT, fontSize=22, fontWeight="bold", baseline="middle",
                                                color="#111").encode(x=XB("x"), y=YB("y"), text="text:N")
grpB_layer = alt.Chart(df_grpB).mark_text(font=FONT, fontSize=25, fontWeight="bold", baseline="middle",
                                          color="#111").encode(x=XB("x"), y=YB("y"), text="text:N")
df_B = pd.DataFrame(dict(label=["B"], y=[-23]))
labB = alt.Chart(df_B).mark_text(font="Liberation Sans", fontSize=22, fontWeight="bold", color="#111",
                                 baseline="middle").encode(
    x=alt.value(20), y=YB("y"), text="label:N")

chartB = alt.layer(rect_layer, diag_layer, ctext_layer, head_layer, sub1_layer, sub2_layer, rowlabB_layer,
                   grpB_layer, labB).properties(width=W, height=HB)

chart = alt.vconcat(chartA, chartB, spacing=0).properties(padding=0).configure_view(stroke=None)
chart.save("out.html", embed_options={"renderer": "svg", "actions": False})
